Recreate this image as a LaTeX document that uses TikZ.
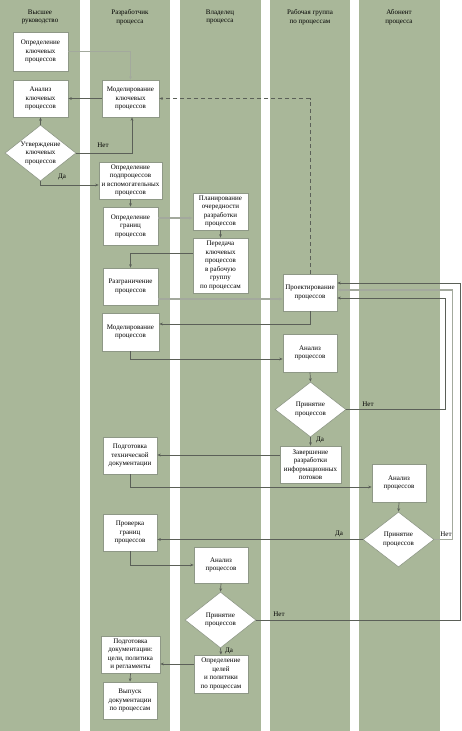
\documentclass[tikz,border=0pt]{standalone}
\usepackage{fontspec}
\setmainfont{Liberation Serif}
\usetikzlibrary{shapes.geometric,arrows.meta}
\definecolor{lanefill}{HTML}{A9B799}
\definecolor{boxline}{HTML}{8E9886}
\definecolor{darkline}{HTML}{5B6058}
\definecolor{lightline}{HTML}{A3A99D}
\begin{document}
\begin{tikzpicture}[x=1pt,y=-1pt,
  txt/.style={font=\fontsize{7}{8.5}\selectfont, align=center, inner sep=0pt},
  box/.style={txt, draw=boxline, fill=white, line width=0.6pt, minimum width=55pt, minimum height=37pt},
  dia/.style={shape=diamond, draw=boxline, fill=white, line width=0.6pt, minimum width=71pt, minimum height=56pt, inner sep=0pt},
  conn/.style={draw=darkline, line width=0.7pt, -{Stealth[length=3.5pt,width=2.8pt]}},
  connl/.style={draw=lightline, line width=1.1pt, -{Stealth[length=3.5pt,width=2.8pt]}},
  lbl/.style={txt}
]
\fill[white] (0,0) rectangle (461,731);
\useasboundingbox (0,0) rectangle (461,731);
% lanes
\fill[lanefill] (0,0) rectangle (80,731);
\fill[lanefill] (90,0) rectangle (170,731);
\fill[lanefill] (180,0) rectangle (261,731);
\fill[lanefill] (270,0) rectangle (350,731);
\fill[lanefill] (359,0) rectangle (440,731);
% headers
\node[txt] (h1) at (40,17) {Высшее\\руководство};
\node[txt] (h2) at (130,17) {Разработчик\\процесса};
\node[txt] (h3) at (220,17) {Владелец\\процесса};
\node[txt] (h4) at (310,17) {Рабочая группа\\по процессам};
\node[txt] (h5) at (399,17) {Абонент\\процесса};
% boxes
\node[box, minimum height=39pt] (A) at (40.5,51.5) {Определение\\ключевых\\процессов};
\node[box] (B) at (40.5,98.5) {Анализ\\ключевых\\процессов};
\node[box, minimum width=57pt] (C) at (130.5,98.5) {Моделирование\\ключевых\\процессов};
\node[dia] (DK) at (40.5,153) {};
\node[txt] at (DK) {Утверждение\\ключевых\\процессов};
\node[box, minimum width=63pt] (D) at (130.5,180.5) {Определение\\подпроцессов\\и вспомогательных\\процессов};
\node[box, minimum height=38pt] (E) at (130.5,226) {Определение\\границ\\процессов};
\node[box] (F) at (220.5,211.5) {Планирование\\очередности\\разработки\\процессов};
\node[box, minimum height=55pt] (G) at (220.5,265.5) {Передача\\ключевых\\процессов\\в рабочую\\группу\\по процессам};
\node[box] (H) at (130.5,286.5) {Разграничение\\процессов};
\node[box, minimum width=54pt] (I) at (310,292.5) {Проектирование\\процессов};
\node[box, minimum width=57pt, minimum height=38pt] (J) at (130.5,332) {Моделирование\\процессов};
\node[box, minimum width=54pt, minimum height=38pt] (K) at (310,353) {Анализ\\процессов};
\node[dia, minimum height=55pt] (L) at (310.5,409.5) {};
\node[txt] at (L) {Принятие\\процессов};
\node[box, minimum width=61pt] (M) at (310.5,464.5) {Завершение\\разработки\\информационных\\потоков};
\node[box, minimum width=54pt] (N) at (130,455.5) {Подготовка\\технической\\документации};
\node[box, minimum width=54pt, minimum height=38pt] (O) at (399,483) {Анализ\\процессов};
\node[dia, minimum height=55pt] (P) at (398.5,539.5) {};
\node[txt] at (P) {Принятие\\процессов};
\node[box, minimum width=54pt] (Q) at (130,532.5) {Проверка\\границ\\процессов};
\node[box, minimum width=54pt, minimum height=36pt] (R) at (221,565) {Анализ\\процессов};
\node[dia] (S) at (220.5,620) {};
\node[txt] at (S) {Принятие\\процессов};
\node[box, minimum width=54pt, minimum height=38pt] (T) at (221,674) {Определение\\целей\\и политики\\по процессам};
\node[box, minimum width=59pt] (U) at (130.5,654.5) {Подготовка\\документации:\\цели, политика\\и регламенты};
\node[box, minimum width=54pt] (V) at (130,700.5) {Выпуск\\документации\\по процессам};
% return coordinates
\coordinate (ret1) at (445,0);
\coordinate (ret2) at (452.5,0);
\coordinate (ret3) at (460,0);
% connectors
\draw[connl] (A.east) -| (C.north);
\draw[conn] (C.west) -- (B.east);
\draw[conn] (DK.north) -- (B.south);
\draw[conn] (DK.east) -| ([xshift=1.5pt]C.south);
\node[lbl] at (103,145) {Нет};
\draw[conn] (DK.south) |- ([yshift=-4.5pt]D.west);
\node[lbl] at (62,177) {Да};
\draw[conn] (D.south) -- (E.north);
\draw[connl] ([yshift=8pt]E.east) -- ([yshift=8pt]E.east -| F.west);
\draw[conn] (F.south) -- (G.north);
\draw[conn] ([yshift=12.5pt]G.west) -| (H.north);
\draw[connl] ([yshift=-12.5pt]H.east) -- ([yshift=-12.5pt]H.east -| I.west);
\draw[conn, dashed, dash pattern=on 4pt off 3pt] (I.north) |- (C.east);
\draw[conn] (I.south) |- ([yshift=8pt]J.east);
\draw[conn] (J.south) |- ([yshift=-6pt]K.west);
\draw[conn] (K.south) -- (L.north);
\draw[conn] (L.east) -- (L.east -| ret1) |- ([yshift=-5.5pt]I.east);
\node[lbl] at (368,404) {Нет};
\draw[conn] (L.south) -- (M.north);
\node[lbl] at (320,440) {Да};
\draw[conn] ([yshift=9.5pt]M.west) -- ([yshift=9.5pt]M.west -| N.east);
\draw[conn] (N.south) |- ([yshift=-4pt]O.west);
\draw[conn] (O.south) -- (P.north);
\draw[conn] (P.west) -- (P.west -| Q.east);
\node[lbl] at (339,534) {Да};
\draw[connl] (P.east) -- (P.east -| ret2) |- ([yshift=2.5pt]I.east);
\node[lbl] at (446,534) {Нет};
\draw[conn] (Q.south) |- (R.west);
\draw[conn] (R.south) -- (S.north);
\draw[conn] (S.east) -- (S.east -| ret3) |- ([yshift=9.5pt]I.east);
\node[lbl] at (279,614) {Нет};
\draw[conn] (S.south) -- (T.north);
\node[lbl] at (229,651) {Да};
\draw[conn] ([yshift=10pt]T.west) -- ([yshift=10pt]T.west -| U.east);
\draw[conn] (U.south) -- (V.north);
\end{tikzpicture}
\end{document}
